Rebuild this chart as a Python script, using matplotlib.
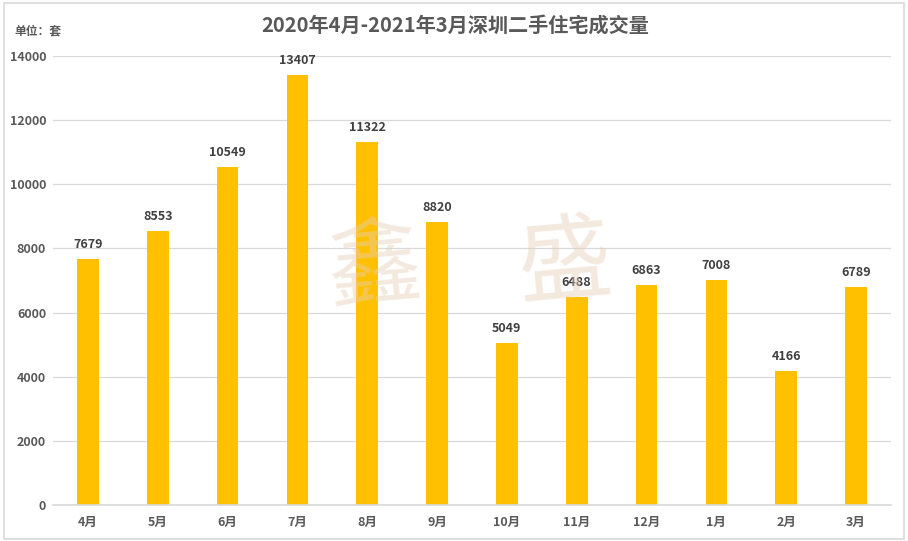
import matplotlib
matplotlib.use("Agg")
import matplotlib.pyplot as plt
from matplotlib.patches import Rectangle

plt.rcParams['font.family'] = ['Noto Sans CJK SC', 'DejaVu Sans']

categories = ["4月", "5月", "6月", "7月", "8月", "9月", "10月", "11月", "12月", "1月", "2月", "3月"]
values = [7679, 8553, 10549, 13407, 11322, 8820, 5049, 6488, 6863, 7008, 4166, 6789]
yticks = [0, 2000, 4000, 6000, 8000, 10000, 12000, 14000]
title = "2020年4月-2021年3月深圳二手住宅成交量"
unit = "单位：套"

txt = "#595959"
fig = plt.figure(figsize=(9.08, 5.41), dpi=100)
fig.patches.append(Rectangle((0.004, 0.004), 0.992, 0.99, transform=fig.transFigure,
                             fill=False, edgecolor="#D9D9D9", linewidth=1.2))
ax = fig.add_axes([53/908, 36/541, (891-53)/908, (505-56)/541])
x = range(len(categories))
ax.bar(x, values, width=0.31, color="#FFC000", zorder=2)
for i, v in zip(x, values):
    ax.text(i, v + 250, str(v), ha="center", va="bottom", fontsize=9,
            fontweight="bold", color="#404040")
ax.set_xlim(-0.5, len(categories) - 0.5)
ax.set_ylim(0, 14000)
ax.set_yticks(yticks)
ax.set_yticklabels([str(t) for t in yticks], fontsize=9, fontweight="bold", color=txt)
ax.set_xticks(list(x))
ax.set_xticklabels(categories, fontsize=9, fontweight="bold", color=txt)
ax.tick_params(axis="y", length=0, pad=5)
ax.tick_params(axis="x", length=0, pad=8)
ax.grid(axis="y", color="#D9D9D9", linewidth=0.9, zorder=0)
ax.set_axisbelow(True)
for s in ["top", "right", "left"]:
    ax.spines[s].set_visible(False)
ax.spines["bottom"].set_color("#D9D9D9")
ax.spines["bottom"].set_linewidth(1.2)

fig.text(455/908, 1 - 25/541, title, ha="center", va="center", fontsize=14.5,
         fontweight="bold", color=txt)
fig.text(14/908, 1 - 31/541, unit, ha="left", va="center", fontsize=8.5,
         fontweight="bold", color=txt)

fig.text(375/908, 1 - 268/541, "鑫", ha="center", va="center", fontsize=68,
         color="#E6CFB8", alpha=0.45, zorder=5, rotation=5)
fig.text(565/908, 1 - 265/541, "盛", ha="center", va="center", fontsize=68,
         color="#E6CFB8", alpha=0.45, zorder=5, rotation=5)

fig.savefig("out.png", dpi=100)
